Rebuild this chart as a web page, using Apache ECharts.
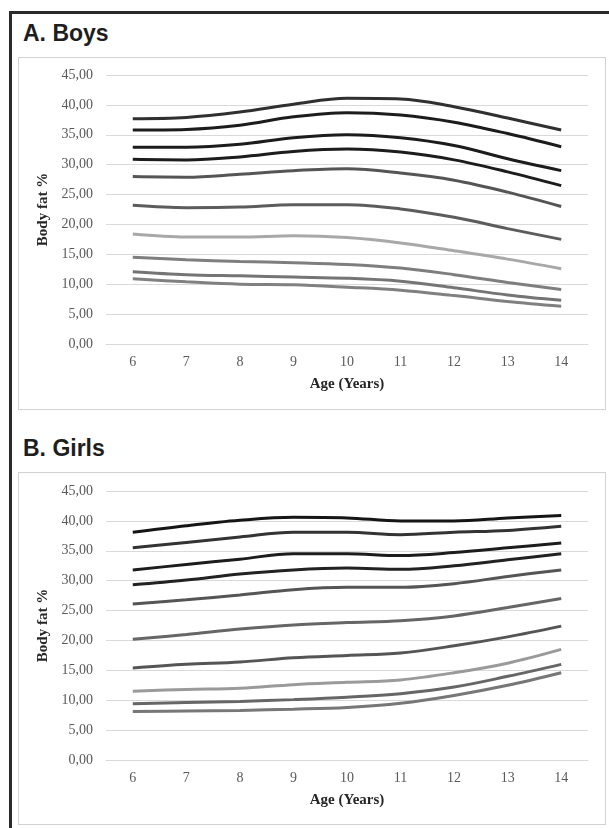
<!DOCTYPE html>
<html>
<head>
<meta charset="utf-8">
<script src="https://cdn.jsdelivr.net/npm/echarts@6/dist/echarts.min.js"></script>
<style>
  html, body { margin: 0; padding: 0; background: #fff; }
  body { width: 609px; height: 828px; position: relative; overflow: hidden; }
  .frame {
    position: absolute; left: 9px; top: 11px; width: 640px; height: 860px;
    border: 3px solid #2a2a2a; box-sizing: border-box;
  }
  .title {
    position: absolute; left: 23px; font-family: "Liberation Sans", Arial, sans-serif;
    font-weight: bold; font-size: 23px; color: #1e1e1e; line-height: 1;
  }
  .box {
    position: absolute; left: 18px; width: 588px; height: 353px;
    border: 1px solid #d2d2d2; box-sizing: border-box; pointer-events: none;
  }
  .chart { position: absolute; left: 18px; width: 588px; height: 353px; }
</style>
</head>
<body>
<div class="frame"></div>
<div class="title" style="top:22px">A. Boys</div>
<div class="chart" id="boys" style="top:57px"></div>
<div class="box" style="top:57px"></div>
<div class="title" style="top:437px">B. Girls</div>
<div class="chart" id="girls" style="top:472px"></div>
<div class="box" style="top:472px"></div>
<script>
// ages on the x axis
const ages = ['6', '7', '8', '9', '10', '11', '12', '13', '14'];

// boys percentile curves, top to bottom
const boysP1 = [37.7, 37.9, 38.8, 40.1, 41.1, 41.0, 39.7, 37.8, 35.8];
const boysP2 = [35.8, 35.9, 36.6, 38.0, 38.7, 38.3, 37.1, 35.2, 33.0];
const boysP3 = [32.9, 32.9, 33.4, 34.5, 35.0, 34.5, 33.2, 31.0, 29.0];
const boysP4 = [30.9, 30.8, 31.3, 32.2, 32.6, 32.1, 30.8, 28.8, 26.5];
const boysP5 = [28.0, 27.9, 28.4, 29.0, 29.3, 28.6, 27.4, 25.4, 23.0];
const boysP6 = [23.2, 22.8, 22.9, 23.3, 23.3, 22.6, 21.2, 19.3, 17.5];
const boysP7 = [18.4, 17.9, 17.9, 18.1, 17.8, 16.9, 15.6, 14.2, 12.6];
const boysP8 = [14.5, 14.1, 13.8, 13.6, 13.3, 12.7, 11.6, 10.3, 9.1];
const boysP9 = [12.1, 11.6, 11.4, 11.2, 11.0, 10.5, 9.4, 8.2, 7.3];
const boysP10 = [10.9, 10.4, 10.0, 9.9, 9.5, 9.0, 8.1, 7.1, 6.3];

// girls percentile curves, top to bottom
const girlsP1 = [38.1, 39.2, 40.1, 40.6, 40.5, 40.0, 40.0, 40.5, 40.9];
const girlsP2 = [35.5, 36.4, 37.3, 38.1, 38.1, 37.7, 38.1, 38.4, 39.1];
const girlsP3 = [31.8, 32.7, 33.6, 34.5, 34.5, 34.2, 34.7, 35.5, 36.3];
const girlsP4 = [29.3, 30.1, 31.1, 31.8, 32.1, 31.9, 32.5, 33.5, 34.5];
const girlsP5 = [26.1, 26.8, 27.6, 28.5, 28.9, 28.9, 29.5, 30.7, 31.8];
const girlsP6 = [20.2, 21.0, 21.9, 22.6, 23.0, 23.3, 24.1, 25.5, 27.0];
const girlsP7 = [15.4, 16.0, 16.4, 17.1, 17.5, 17.9, 19.1, 20.6, 22.4];
const girlsP8 = [11.5, 11.8, 12.0, 12.6, 13.0, 13.4, 14.6, 16.2, 18.5];
const girlsP9 = [9.4, 9.6, 9.8, 10.1, 10.5, 11.1, 12.2, 14.0, 16.0];
const girlsP10 = [8.1, 8.2, 8.3, 8.5, 8.8, 9.5, 10.8, 12.5, 14.6];

const boysColors = ['#303030', '#1c1c1c', '#1c1c1c', '#1c1c1c', '#555555',
                    '#5c5c5c', '#a8a8a8', '#7e7e7e', '#747474', '#808080'];
const girlsColors = ['#151515', '#333333', '#1c1c1c', '#222222', '#555555',
                     '#666666', '#555555', '#9a9a9a', '#666666', '#777777'];

const serif = '"Liberation Serif", "Times New Roman", serif';

function makeOption(lines, colors, gridTop) {
  return {
    animation: false,
    grid: { left: 88, right: 18, top: gridTop, bottom: 352 - gridTop - 268 },
    xAxis: {
      type: 'category',
      data: ages,
      boundaryGap: true,
      axisLine: { show: true, lineStyle: { color: '#d9d9d9', width: 1 } },
      axisTick: { show: false },
      axisLabel: { color: '#595959', fontFamily: serif, fontSize: 14, margin: 11 },
      name: 'Age (Years)',
      nameLocation: 'middle',
      nameGap: 33,
      nameTextStyle: { color: '#262626', fontFamily: serif, fontSize: 15, fontWeight: 'bold' }
    },
    yAxis: {
      type: 'value',
      min: 0, max: 45, interval: 5,
      axisLine: { show: false },
      axisTick: { show: false },
      splitLine: { lineStyle: { color: '#d9d9d9', width: 1 } },
      axisLabel: {
        color: '#595959', fontFamily: serif, fontSize: 14, margin: 13,
        formatter: v => v.toFixed(2).replace('.', ',')
      },
      name: 'Body fat %',
      nameLocation: 'middle',
      nameGap: 51,
      nameTextStyle: { color: '#262626', fontFamily: serif, fontSize: 15, fontWeight: 'bold' }
    },
    series: lines.map((d, i) => ({
      type: 'line',
      data: d,
      smooth: 0.35,
      symbol: 'none',
      lineStyle: { color: colors[i], width: 3 }
    }))
  };
}

const boysChart = echarts.init(document.getElementById('boys'));
boysChart.setOption(makeOption(
  [boysP1, boysP2, boysP3, boysP4, boysP5, boysP6, boysP7, boysP8, boysP9, boysP10],
  boysColors, 18));

const girlsChart = echarts.init(document.getElementById('girls'));
girlsChart.setOption(makeOption(
  [girlsP1, girlsP2, girlsP3, girlsP4, girlsP5, girlsP6, girlsP7, girlsP8, girlsP9, girlsP10],
  girlsColors, 19));
</script>
</body>
</html>
